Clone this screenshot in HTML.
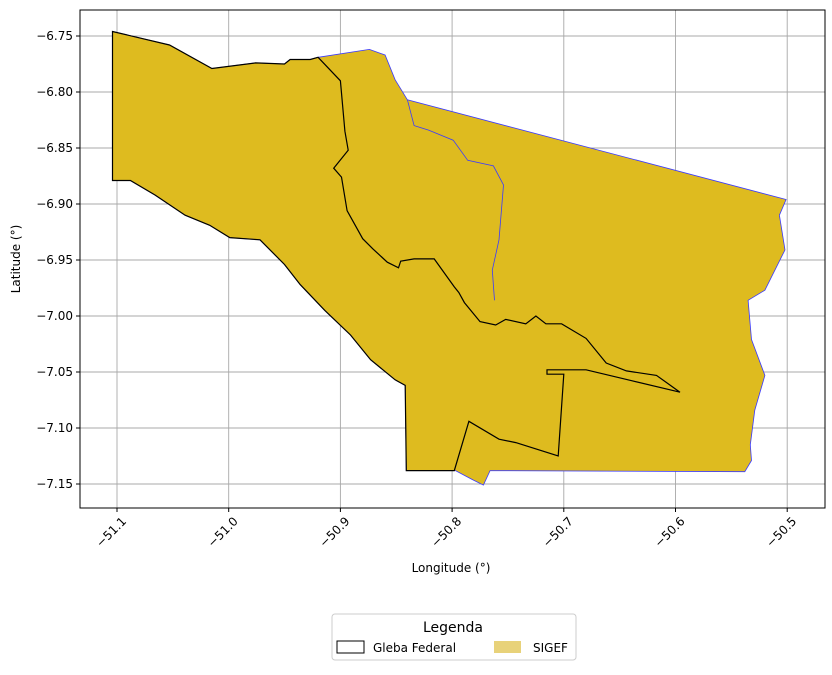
<!DOCTYPE html>
<html><head><meta charset="utf-8"><style>
body{margin:0;background:#fff;font-family:"Liberation Sans","DejaVu Sans",sans-serif}
svg text{font-family:"DejaVu Sans","Liberation Sans",sans-serif;fill:#000}
</style></head><body>
<svg id="c" width="832" height="670" viewBox="0 0 832 670"></svg>
<script>
const xTicks=[-51.1,-51.0,-50.9,-50.8,-50.7,-50.6,-50.5];
const yTicks=[-6.75,-6.80,-6.85,-6.90,-6.95,-7.00,-7.05,-7.10,-7.15];
const sigefLon=[-51.104,-51.053,-51.015,-50.976,-50.950,-50.945,-50.927,-50.920,-50.874,-50.860,-50.851,-50.840,-50.501,-50.507,-50.502,-50.520,-50.535,-50.532,-50.520,-50.529,-50.533,-50.532,-50.538,-50.766,-50.772,-50.782,-50.797,-50.841,-50.842,-50.851,-50.873,-50.891,-50.914,-50.936,-50.950,-50.972,-50.999,-51.017,-51.039,-51.066,-51.088,-51.104];
const sigefLat=[-6.746,-6.758,-6.779,-6.774,-6.775,-6.771,-6.771,-6.769,-6.762,-6.767,-6.789,-6.807,-6.896,-6.910,-6.941,-6.977,-6.986,-7.021,-7.053,-7.084,-7.115,-7.129,-7.139,-7.138,-7.151,-7.146,-7.138,-7.138,-7.062,-7.057,-7.039,-7.017,-6.995,-6.972,-6.954,-6.932,-6.930,-6.919,-6.910,-6.892,-6.879,-6.879];
const glebaLon=[-51.104,-51.053,-51.015,-50.976,-50.950,-50.945,-50.927,-50.920,-50.900,-50.896,-50.893,-50.906,-50.899,-50.894,-50.880,-50.871,-50.858,-50.848,-50.846,-50.834,-50.816,-50.798,-50.794,-50.789,-50.775,-50.761,-50.752,-50.734,-50.725,-50.716,-50.702,-50.680,-50.662,-50.644,-50.617,-50.596,-50.680,-50.715,-50.715,-50.700,-50.705,-50.743,-50.758,-50.785,-50.798,-50.841,-50.842,-50.851,-50.873,-50.891,-50.914,-50.936,-50.950,-50.972,-50.999,-51.017,-51.039,-51.066,-51.088,-51.104];
const glebaLat=[-6.746,-6.758,-6.779,-6.774,-6.775,-6.771,-6.771,-6.769,-6.790,-6.835,-6.852,-6.868,-6.876,-6.906,-6.931,-6.940,-6.952,-6.957,-6.951,-6.949,-6.949,-6.974,-6.979,-6.988,-7.005,-7.008,-7.003,-7.007,-7.000,-7.007,-7.007,-7.020,-7.042,-7.049,-7.053,-7.068,-7.048,-7.048,-7.052,-7.052,-7.125,-7.113,-7.110,-7.094,-7.138,-7.138,-7.062,-7.057,-7.039,-7.017,-6.995,-6.972,-6.954,-6.932,-6.930,-6.919,-6.910,-6.892,-6.879,-6.879];
const riverLon=[-50.840,-50.834,-50.821,-50.799,-50.786,-50.763,-50.754,-50.758,-50.764,-50.762];
const riverLat=[-6.807,-6.830,-6.834,-6.843,-6.861,-6.866,-6.883,-6.932,-6.959,-6.986];
const NS='http://www.w3.org/2000/svg';
const L=80,R=825,T=10,B=508;
const sx=v=>117+(v+51.1)*1117;
const sy=v=>36+(-6.75-v)*1120;
const svg=document.getElementById('c');
function mk(t,a,p){const e=document.createElementNS(NS,t);for(const k in a)e.setAttribute(k,a[k]);(p||svg).appendChild(e);return e;}
const g=mk('g',{});


xTicks.forEach(v=>mk('line',{x1:sx(v),x2:sx(v),y1:T,y2:B,stroke:'#a8a8a8','stroke-width':0.9},g));
yTicks.forEach(v=>mk('line',{x1:L,x2:R,y1:sy(v),y2:sy(v),stroke:'#a8a8a8','stroke-width':0.9},g));
const pts=(lo,la)=>lo.map((v,i)=>sx(v).toFixed(1)+','+sy(la[i]).toFixed(1)).join(' ');
const s=mk('polygon',{points:pts(sigefLon,sigefLat),fill:'#DEBB1F',stroke:'#3a3aff','stroke-width':0.8});


const rv=mk('polyline',{points:pts(riverLon,riverLat),fill:'none',stroke:'#3a3aff','stroke-width':0.8});


const gp=mk('polygon',{points:pts(glebaLon,glebaLat),fill:'none',stroke:'#000','stroke-width':1.2});


const fr=mk('rect',{x:L,y:T,width:R-L,height:B-T,fill:'none',stroke:'#000','stroke-width':1});


xTicks.forEach(v=>{const x=sx(v);mk('line',{x1:x,x2:x,y1:B,y2:B+4,stroke:'#000'});
 const t=mk('text',{x:x+10,y:B+14,'font-size':12,'text-anchor':'end',transform:`rotate(-45 ${x+10} ${B+14})`});t.textContent=v.toFixed(1).replace('-','−');
 
 });
yTicks.forEach(v=>{const y=sy(v);mk('line',{x1:L-4,x2:L,y1:y,y2:y,stroke:'#000'});
 const t=mk('text',{x:L-7,y:y+4,'font-size':12,'text-anchor':'end'});t.textContent=v.toFixed(2).replace('-','−');
 
 });
const xt=mk('text',{x:451,y:572,'font-size':12,'text-anchor':'middle'});xt.textContent='Longitude (°)';


const yt=mk('text',{x:20,y:259,'font-size':12,'text-anchor':'middle',transform:'rotate(-90 20 259)'});yt.textContent='Latitude (°)';


const lg=mk('g',{});


mk('rect',{x:332,y:614,width:244,height:46,rx:3,fill:'#fff',stroke:'#ccc'},lg);
const lt=mk('text',{x:453,y:632,'font-size':14,'text-anchor':'middle'},lg);lt.textContent='Legenda';
mk('rect',{x:337,y:641,width:27,height:12,fill:'#fff',stroke:'#000'},lg);
const l1=mk('text',{x:373,y:652,'font-size':12},lg);l1.textContent='Gleba Federal';


mk('rect',{x:494,y:641,width:27,height:12,fill:'#E8D27A'},lg);
const l2=mk('text',{x:533,y:652,'font-size':12},lg);l2.textContent='SIGEF';


</script>
</body></html>
